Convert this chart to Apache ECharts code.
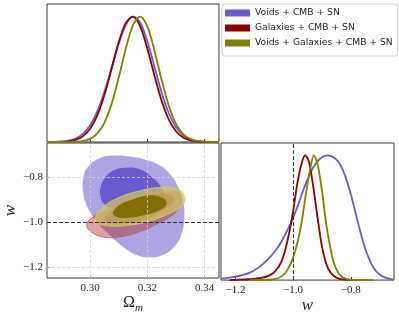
<!DOCTYPE html>
<html>
<head>
<meta charset="utf-8">
<script src="https://cdn.jsdelivr.net/npm/echarts@6/dist/echarts.min.js"></script>
<style>html,body{margin:0;padding:0;background:#fff}#c{width:399px;height:315px}</style>
</head>
<body>
<div id="c"></div>
<script>
// ---- data ----
const seriesNames = ['Voids + CMB + SN', 'Galaxies + CMB + SN', 'Voids + Galaxies + CMB + SN'];
const omTicks = [0.30, 0.32, 0.34];
const wTicks = [-1.2, -1.0, -0.8];

const omX = [0.285,0.2875,0.290,0.2925,0.295,0.2975,0.300,0.3025,0.305,0.3075,0.310,0.3125,0.315,0.3175,0.320,0.3225,0.325,0.3275,0.330,0.3325,0.335,0.3375,0.340,0.3425,0.345];
const omBlue  = [0.0004,0.0012,0.0039,0.011,0.028,0.064,0.132,0.242,0.399,0.59,0.784,0.934,1.0,0.953,0.803,0.598,0.393,0.229,0.117,0.053,0.021,0.0075,0.0024,0.0007,0.0002];
const omRed   = [0.0001,0.0004,0.0016,0.0056,0.017,0.045,0.103,0.21,0.372,0.58,0.793,0.95,0.999,0.921,0.745,0.528,0.328,0.179,0.086,0.036,0.013,0.004,0.0012,0.0003,0.0001];
const omOlive = [0,0,0.0001,0.0005,0.0022,0.0079,0.025,0.066,0.153,0.302,0.512,0.746,0.932,1.0,0.921,0.728,0.494,0.288,0.144,0.062,0.023,0.0072,0.002,0.0005,0.0001];

const wBlue = [[-1.25,0.012],[-1.22,0.02],[-1.18,0.038],[-1.15,0.06],[-1.12,0.10],[-1.09,0.16],[-1.06,0.24],[-1.04,0.31],[-1.02,0.40],[-1.00,0.50],[-0.98,0.62],[-0.96,0.75],[-0.94,0.86],[-0.92,0.94],[-0.90,0.985],[-0.88,1.0],[-0.86,0.985],[-0.84,0.94],[-0.82,0.84],[-0.80,0.69],[-0.78,0.51],[-0.76,0.33],[-0.74,0.19],[-0.72,0.095],[-0.70,0.045],[-0.68,0.02],[-0.66,0.008],[-0.65,0.005]];
const wRed = [[-1.22,0],[-1.20,0.002],[-1.15,0.007],[-1.11,0.017],[-1.08,0.04],[-1.06,0.075],[-1.04,0.15],[-1.02,0.31],[-1.00,0.55],[-0.985,0.78],[-0.97,0.94],[-0.958,1.0],[-0.945,0.95],[-0.93,0.75],[-0.915,0.50],[-0.90,0.27],[-0.885,0.13],[-0.87,0.06],[-0.85,0.02],[-0.83,0.006],[-0.80,0.001],[-0.76,0]];
const wOlive = [[-1.15,0],[-1.10,0.001],[-1.06,0.01],[-1.04,0.03],[-1.02,0.08],[-1.00,0.18],[-0.985,0.30],[-0.97,0.47],[-0.955,0.70],[-0.94,0.90],[-0.928,1.0],[-0.915,0.93],[-0.90,0.72],[-0.888,0.50],[-0.875,0.31],[-0.86,0.15],[-0.845,0.065],[-0.83,0.025],[-0.81,0.006],[-0.78,0.001],[-0.72,0]];

// 2D contours (Omega_m, w)
const blueOuter = [[0.2977,-0.804],[0.2994,-0.754],[0.3035,-0.717],[0.3080,-0.706],[0.3138,-0.710],[0.3196,-0.725],[0.3244,-0.750],[0.3280,-0.790],[0.3306,-0.841],[0.3324,-0.906],[0.3329,-0.978],[0.3320,-1.051],[0.3295,-1.109],[0.3258,-1.145],[0.3207,-1.158],[0.3161,-1.147],[0.3115,-1.111],[0.3069,-1.060],[0.3029,-1.008],[0.2994,-0.942],[0.2977,-0.877]];
const blueInner = [[0.30355,-0.877],[0.3038,-0.842],[0.30518,-0.807],[0.30759,-0.777],[0.31218,-0.760],[0.31794,-0.770],[0.32198,-0.806],[0.32425,-0.835],[0.32588,-0.877],[0.32519,-0.934],[0.3207,-0.955],[0.3138,-0.955],[0.30794,-0.942],[0.30483,-0.920]];
const redOuter = [[0.29886,-1.015],[0.30114,-1.051],[0.30576,-1.070],[0.31149,-1.065],[0.31725,-1.044],[0.32301,-1.012],[0.32874,-0.971],[0.33164,-0.928],[0.33198,-0.891],[0.33046,-0.870],[0.32646,-0.870],[0.31956,-0.884],[0.31266,-0.906],[0.30576,-0.950],[0.30114,-0.978]];
const redInner = [[0.30518,-0.993],[0.31035,-1.007],[0.31956,-0.986],[0.32646,-0.942],[0.32933,-0.899],[0.32646,-0.877],[0.31725,-0.891],[0.30921,-0.935]];
const oliveOuter = [[0.30173,-0.986],[0.30459,-0.935],[0.31035,-0.891],[0.31725,-0.863],[0.32415,-0.848],[0.32991,-0.852],[0.33295,-0.886],[0.33219,-0.928],[0.3276,-0.964],[0.3207,-0.997],[0.3138,-1.015],[0.3069,-1.019],[0.30286,-1.007]];
const oliveInner = [[0.30804,-0.957],[0.31104,-0.920],[0.3138,-0.906],[0.31956,-0.884],[0.32474,-0.891],[0.32667,-0.913],[0.32529,-0.942],[0.31956,-0.968],[0.31266,-0.983],[0.30863,-0.974]];

// ---- styles ----
const lineColors = ['#6a5acd', '#8b0000', '#808000'];
const contours = [blueOuter, blueInner, redOuter, redInner, oliveOuter, oliveInner];
const contourFill = ['rgba(106,90,205,0.55)','rgba(100,84,205,0.92)','rgba(175,35,35,0.42)','rgba(139,10,10,0.55)','rgba(208,200,95,0.72)','rgba(125,108,0,0.95)'];
const contourStroke = [null, null, 'rgba(200,90,90,0.9)', null, 'rgba(215,200,90,0.95)', null];

const serif = 'Liberation Serif';
const tickFmt = v => (v < 0 ? '\u2212' : '') + Math.abs(v).toFixed(v > 0 ? 2 : 1);

const chart = echarts.init(document.getElementById('c'), null, {renderer: 'canvas'});

function axisCommon(extra) {
  return Object.assign({
    type: 'value',
    axisLine: {show: false},
    splitLine: {show: false},
    axisTick: {show: true, inside: true, length: 3, lineStyle: {color: '#333', width: 1}},
    axisLabel: {show: false}
  }, extra);
}

const grids = [
  {left: 47, top: 4, width: 172, height: 138},
  {left: 47, top: 143, width: 172, height: 138},
  {left: 221, top: 143, width: 173, height: 138}
].map(g => Object.assign(g, {show: true, borderColor: '#383838', borderWidth: 1, backgroundColor: 'transparent', containLabel: false}));

const option = {
  animation: false,
  backgroundColor: '#fff',
  grid: grids,
  legend: {
    data: seriesNames,
    orient: 'vertical',
    left: 222, top: 4,
    icon: 'rect',
    itemWidth: 25, itemHeight: 7, itemGap: 3,
    padding: [3, 5, 7, 3],
    borderColor: '#cfcfcf', borderWidth: 1, borderRadius: 3,
    backgroundColor: '#fff',
    selectedMode: false,
    textStyle: {fontFamily: 'DejaVu Sans', fontSize: 9.2, color: '#222', lineHeight: 12}
  },
  xAxis: [
    axisCommon({gridIndex: 0, min: 0.285, max: 0.345, axisTick: {show: true, inside: true, length: 3, customValues: omTicks, lineStyle: {color: '#333'}}}),
    axisCommon({gridIndex: 1, min: 0.285, max: 0.345,
      axisTick: {show: true, inside: true, length: 3, customValues: omTicks, lineStyle: {color: '#333'}},
      axisLabel: {show: true, customValues: omTicks, formatter: v => v.toFixed(2), fontFamily: serif, fontSize: 11, color: '#222', margin: 5},
      name: '{o|\u03A9}{s|m}', nameLocation: 'middle', nameGap: 15,
      nameTextStyle: {rich: {
        o: {fontFamily: serif, fontSize: 16, color: '#222', lineHeight: 18, verticalAlign: 'bottom'},
        s: {fontFamily: serif, fontStyle: 'italic', fontSize: 11, color: '#222', verticalAlign: 'bottom', padding: [0, 0, -3, 0]}
      }}
    }),
    axisCommon({gridIndex: 2, min: -1.25, max: -0.65,
      axisTick: {show: true, inside: true, length: 3, customValues: wTicks, lineStyle: {color: '#333'}},
      axisLabel: {show: true, customValues: wTicks, formatter: tickFmt, fontFamily: serif, fontSize: 11, color: '#222', margin: 5},
      name: 'w', nameLocation: 'middle', nameGap: 14,
      nameTextStyle: {fontFamily: serif, fontStyle: 'italic', fontSize: 17, color: '#222'}
    })
  ],
  yAxis: [
    axisCommon({gridIndex: 0, min: 0, max: 1.1, axisTick: {show: false}}),
    axisCommon({gridIndex: 1, min: -1.25, max: -0.65,
      axisTick: {show: true, inside: true, length: 3, customValues: wTicks, lineStyle: {color: '#333'}},
      axisLabel: {show: true, customValues: wTicks, formatter: tickFmt, fontFamily: serif, fontSize: 11, color: '#222', margin: 4},
      name: 'w', nameLocation: 'middle', nameGap: 28, nameRotate: 90,
      nameTextStyle: {fontFamily: serif, fontStyle: 'italic', fontSize: 17, color: '#222'}
    }),
    axisCommon({gridIndex: 2, min: 0, max: 1.1, axisTick: {show: false}})
  ],
  series: []
};

// 1D Omega_m curves (top-left)
[omBlue, omRed, omOlive].forEach((vals, i) => {
  option.series.push({
    name: seriesNames[i], type: 'line', xAxisIndex: 0, yAxisIndex: 0,
    data: omX.map((x, k) => [x, vals[k]]),
    smooth: 0.3, showSymbol: false, symbol: 'none', z: 3 + i,
    lineStyle: {color: lineColors[i], width: 1.8},
    itemStyle: {color: lineColors[i]}
  });
});
// 1D w curves (bottom-right)
[wBlue, wRed, wOlive].forEach((vals, i) => {
  option.series.push({
    name: seriesNames[i], type: 'line', xAxisIndex: 2, yAxisIndex: 2,
    data: vals, smooth: 0.3, showSymbol: false, symbol: 'none', z: 3 + i,
    lineStyle: {color: lineColors[i], width: 1.8},
    itemStyle: {color: lineColors[i]}
  });
});

// grid lines in the 2D panel
option.series.push({
  type: 'line', xAxisIndex: 1, yAxisIndex: 1, data: [], z: 1, silent: true,
  markLine: {symbol: 'none', silent: true, label: {show: false}, animation: false,
    lineStyle: {color: '#d0d0d0', width: 0.8, type: [3, 2]},
    data: omTicks.map(v => ({xAxis: v})).concat([{yAxis: -0.8}, {yAxis: -1.2}])}
});

// filled contours
option.series.push({
  type: 'custom', xAxisIndex: 1, yAxisIndex: 1, z: 2, silent: true,
  data: contours.map((c, i) => [i]),
  renderItem: function (params, api) {
    const i = params.dataIndex;
    const pts = contours[i].map(p => api.coord(p));
    return {
      type: 'polygon',
      shape: {points: pts, smooth: 0.45},
      style: {fill: contourFill[i], stroke: contourStroke[i] || 'none', lineWidth: contourStroke[i] ? 1 : 0}
    };
  }
});

// reference w = -1 lines
option.series.push({
  type: 'line', xAxisIndex: 1, yAxisIndex: 1, data: [], z: 10, silent: true,
  markLine: {symbol: 'none', silent: true, label: {show: false}, animation: false,
    lineStyle: {color: '#333', width: 1, type: [4, 2]}, data: [{yAxis: -1.0}]}
});
option.series.push({
  type: 'line', xAxisIndex: 2, yAxisIndex: 2, data: [], z: 10, silent: true,
  markLine: {symbol: 'none', silent: true, label: {show: false}, animation: false,
    lineStyle: {color: '#333', width: 1, type: [4, 2]}, data: [{xAxis: -1.0}]}
});

chart.setOption(option);
</script>
</body>
</html>
